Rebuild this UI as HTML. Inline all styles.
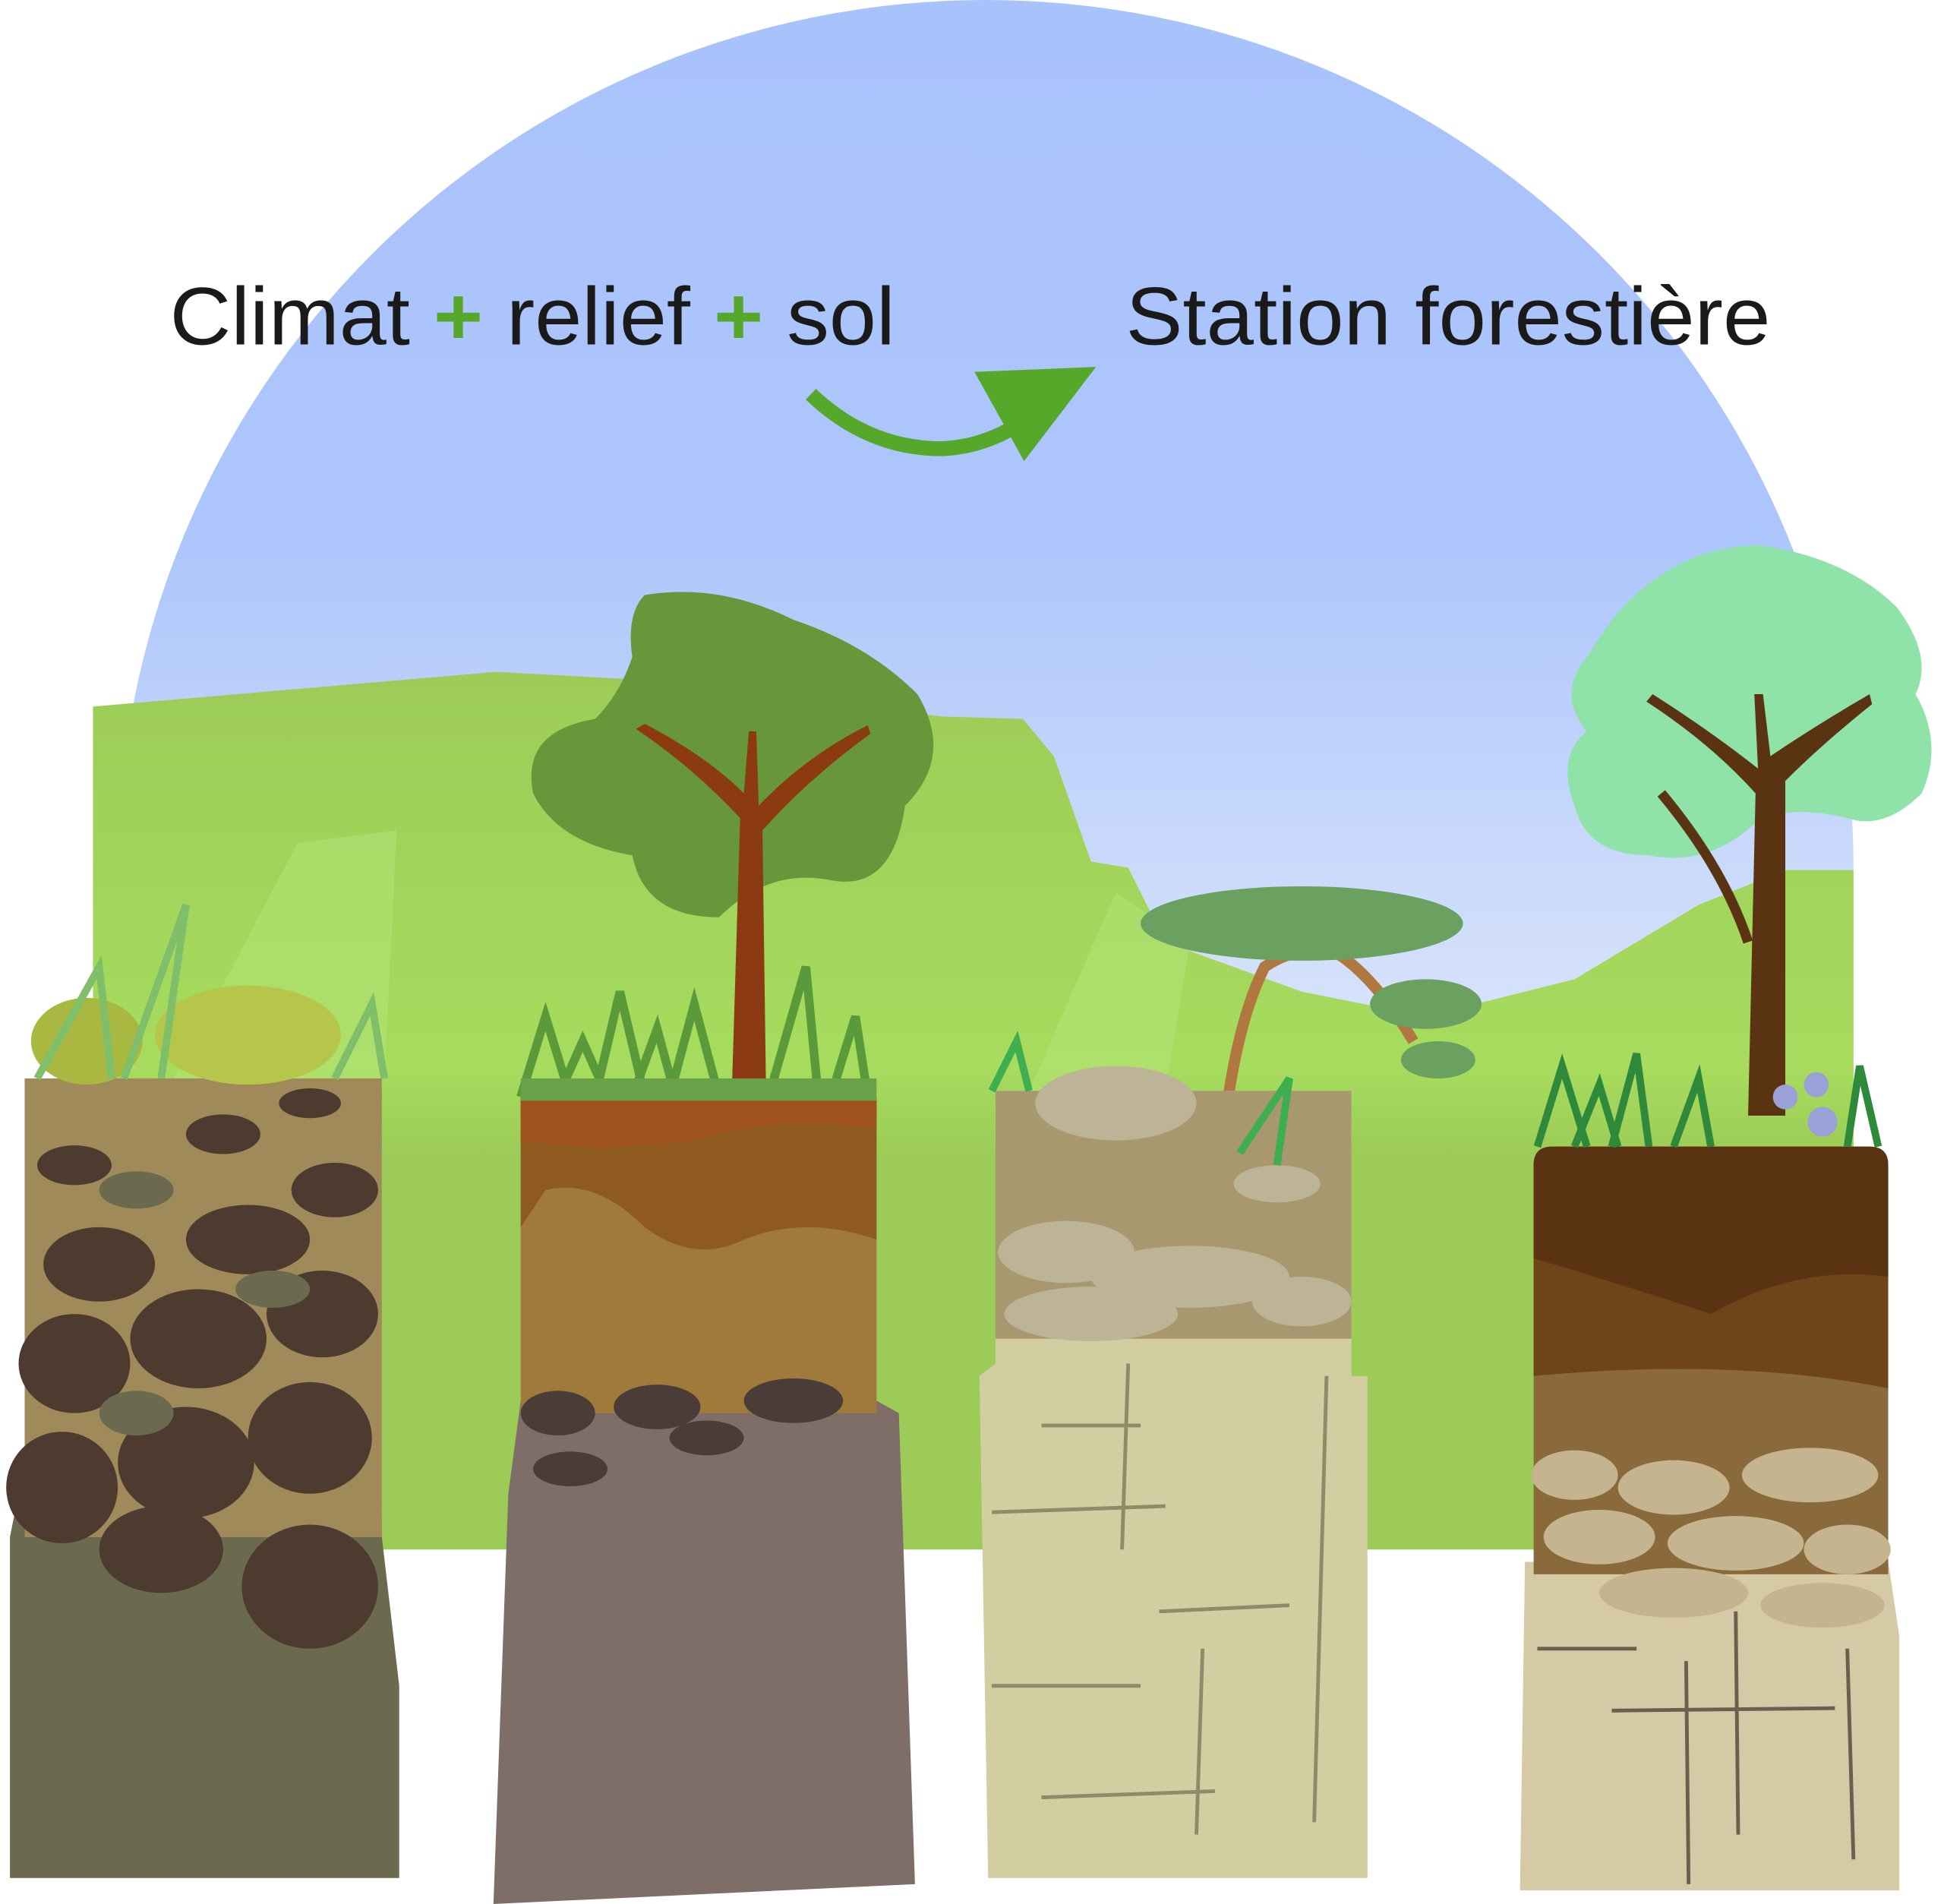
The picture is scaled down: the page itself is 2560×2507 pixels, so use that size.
<!DOCTYPE html>
<html><head><meta charset="utf-8"><style>
html,body{margin:0;padding:0;background:#fff;}
svg{display:block;}
</style></head><body>
<svg width="2560" height="2507" viewBox="0 0 1568 1536" preserveAspectRatio="none" xmlns="http://www.w3.org/2000/svg">
<defs>
<linearGradient id="sky" x1="0" y1="0" x2="0" y2="1">
<stop offset="0" stop-color="#a8c2fb"/><stop offset="0.35" stop-color="#adc6fb"/><stop offset="0.7" stop-color="#dde7fb"/><stop offset="1" stop-color="#eef3fb"/>
</linearGradient>
<linearGradient id="hill" x1="0" y1="0" x2="0" y2="1">
<stop offset="0" stop-color="#9ccc57"/><stop offset="0.45" stop-color="#a7dc5e"/><stop offset="0.55" stop-color="#9ccc57"/><stop offset="1" stop-color="#9ccc57"/>
</linearGradient>
</defs>
<rect width="1568" height="1536" fill="#fff"/>
<path d="M95,700 A700,700 0 0 1 1495,700 L1495,1250 L95,1250 Z" fill="url(#sky)"/>
<polygon fill="url(#hill)" points="75,570 400,542 510,548 760,578 825,580 850,610 880,695 910,700 940,760 1050,800 1150,820 1270,790 1370,730 1440,702 1495,702 1495,1250 75,1250"/>
<polygon fill="#b5e47a" opacity="0.5" points="240,680 320,670 310,870 140,870"/>
<polygon fill="#b5e47a" opacity="0.5" points="900,720 960,760 940,880 830,880"/>

<text x="137" y="278" font-family="Liberation Sans, sans-serif" font-size="66" fill="#1a1a1a" textLength="585" lengthAdjust="spacingAndGlyphs">Climat <tspan fill="#56a82a" font-weight="bold">+</tspan> relief <tspan fill="#56a82a" font-weight="bold">+</tspan> sol</text>
<text x="908" y="278" font-family="Liberation Sans, sans-serif" font-size="66" fill="#1a1a1a" textLength="520" lengthAdjust="spacingAndGlyphs">Station forestière</text>
<path d="M654,318 Q700,362 760,362 Q805,360 845,325" fill="none" stroke="#56a82a" stroke-width="12"/>
<polygon fill="#56a82a" points="884,296 786,300 826,372"/>

<!-- tree 2 -->
<path d="M520,480 Q580,470 640,500 Q700,520 740,560 Q770,610 730,650 Q720,720 670,710 Q620,700 580,740 Q520,740 510,690 Q450,680 430,640 Q420,590 480,580 Q500,560 510,530 Q505,495 520,480 Z" fill="#67973a"/>
<path d="M590,890 L597,660 Q560,620 513,588 L520,584 Q570,610 600,640 L604,590 L610,590 L612,650 Q650,610 700,585 L702,592 Q650,630 615,670 L618,890 Z" fill="#8b3a12"/>
<!-- tree 4 -->
<path d="M1300,500 Q1350,440 1420,440 Q1490,450 1530,490 Q1560,530 1545,560 Q1568,600 1550,640 Q1520,670 1490,660 Q1450,650 1420,660 Q1380,700 1330,690 Q1280,690 1270,650 Q1255,610 1280,590 Q1255,560 1280,530 Z" fill="#8fe3a8"/>
<path d="M1410,900 L1416,640 Q1380,600 1328,566 L1333,560 Q1380,590 1418,620 L1415,560 L1422,560 L1428,610 Q1465,585 1508,560 L1510,568 Q1470,600 1440,630 L1440,900 Z" fill="#5a3312"/>
<path d="M1340,640 Q1390,700 1410,760" stroke="#5a3312" stroke-width="8" fill="none"/>
<!-- tree 3 acacia -->
<path d="M990,890 Q1000,820 1020,780 Q1050,760 1080,770 Q1110,790 1140,840" stroke="#b07840" stroke-width="9" fill="none"/>
<ellipse cx="1050" cy="745" rx="130" ry="30" fill="#6aa060"/>
<ellipse cx="1150" cy="810" rx="45" ry="20" fill="#6aa060"/>
<ellipse cx="1160" cy="855" rx="30" ry="15" fill="#6aa060"/>

<!-- column 1 -->
<path d="M20,870 L305,870 L308,1240 L322,1360 L322,1515 L8,1515 L8,1240 L20,1180 Z" fill="#6b6a4e"/>
<rect x="20" y="870" width="288" height="370" fill="#a08a5a"/>
<g fill="#4d3b2f">
<ellipse cx="60" cy="940" rx="30" ry="16"/><ellipse cx="180" cy="915" rx="30" ry="16"/><ellipse cx="250" cy="890" rx="25" ry="12"/>
<ellipse cx="80" cy="1020" rx="45" ry="30"/><ellipse cx="200" cy="1000" rx="50" ry="28"/><ellipse cx="270" cy="960" rx="35" ry="22"/>
<ellipse cx="60" cy="1100" rx="45" ry="40"/><ellipse cx="160" cy="1080" rx="55" ry="40"/><ellipse cx="260" cy="1060" rx="45" ry="35"/>
<ellipse cx="50" cy="1200" rx="45" ry="45"/><ellipse cx="150" cy="1180" rx="55" ry="45"/><ellipse cx="250" cy="1160" rx="50" ry="45"/>
<ellipse cx="250" cy="1280" rx="55" ry="50"/><ellipse cx="130" cy="1250" rx="50" ry="35"/>
</g>
<g fill="#6b6a4e"><ellipse cx="110" cy="960" rx="30" ry="15"/><ellipse cx="220" cy="1040" rx="30" ry="15"/><ellipse cx="110" cy="1140" rx="30" ry="18"/></g>
<ellipse cx="70" cy="840" rx="45" ry="35" fill="#a8b840"/><ellipse cx="200" cy="835" rx="75" ry="40" fill="#b5c64a"/>
<path d="M30,870 L80,780 L90,870 M100,870 L150,730 L130,870 M270,870 L300,810 L310,870" stroke="#7fbf6a" stroke-width="6" fill="none"/>

<!-- column 2 -->
<path d="M420,1130 L707,1130 L725,1140 L738,1520 L398,1536 L410,1205 Z" fill="#7f6e68"/>
<rect x="420" y="885" width="287" height="255" fill="#a07a3a"/>
<path d="M420,885 L707,885 L707,1000 Q650,980 600,1000 Q560,1020 520,990 Q480,950 440,960 L420,990 Z" fill="#8e5a1f"/>
<path d="M420,885 L707,885 L707,910 Q620,900 560,920 Q480,930 420,920 Z" fill="#a0521c"/>
<g fill="#4a3d38"><ellipse cx="450" cy="1140" rx="30" ry="18"/><ellipse cx="530" cy="1135" rx="35" ry="18"/><ellipse cx="640" cy="1130" rx="40" ry="18"/><ellipse cx="460" cy="1185" rx="30" ry="14"/><ellipse cx="570" cy="1160" rx="30" ry="14"/></g>
<path d="M420,885 L440,820 L460,885 M480,885 L500,800 L520,885 M540,885 L560,810 L580,885 M620,885 L650,780 L660,885 M670,885 L690,820 L700,885 M450,885 L470,840 L490,885 M510,885 L530,830 L545,885" stroke="#5a9a3a" stroke-width="7" fill="none"/>
<rect x="420" y="870" width="287" height="18" fill="#6aa24a"/>

<!-- column 3 -->
<path d="M803,880 L1090,880 L1090,1110 L1103,1110 L1103,1515 L797,1515 L790,1110 L803,1100 Z" fill="#d3cea2"/>
<rect x="803" y="880" width="287" height="200" fill="#a89870"/>
<g fill="#bdb497"><ellipse cx="900" cy="890" rx="65" ry="30"/><ellipse cx="1030" cy="955" rx="35" ry="15"/><ellipse cx="860" cy="1010" rx="55" ry="25"/><ellipse cx="960" cy="1030" rx="80" ry="25"/><ellipse cx="1050" cy="1050" rx="40" ry="20"/><ellipse cx="880" cy="1060" rx="70" ry="22"/></g>
<g stroke="#8f8a6a" stroke-width="3" fill="none"><path d="M840,1150 L920,1150 M910,1100 L905,1250 M800,1220 L940,1215 M935,1300 L1040,1295 M800,1360 L920,1360 M840,1450 L980,1445 M970,1330 L965,1480 M1070,1110 L1060,1470"/></g>
<path d="M800,880 L820,840 L830,880 M1000,930 L1040,870 L1030,940" stroke="#3fae4f" stroke-width="6" fill="none"/>

<!-- column 4 -->
<path d="M1237,1260 L1523,1260 L1532,1320 L1532,1525 L1226,1525 L1230,1260 Z" fill="#d6c9a5"/>
<path d="M1237,940 Q1237,925 1252,925 L1508,925 Q1523,925 1523,940 L1523,1270 L1237,1270 Z" fill="#8a6a3a"/>
<path d="M1237,940 Q1237,925 1252,925 L1508,925 Q1523,925 1523,940 L1523,1120 Q1400,1095 1237,1110 Z" fill="#6e4519"/>
<path d="M1237,940 Q1237,925 1252,925 L1508,925 Q1523,925 1523,940 L1523,1030 Q1450,1020 1380,1060 Q1320,1040 1237,1015 Z" fill="#5a3312"/>
<g fill="#c4b48f"><ellipse cx="1270" cy="1190" rx="35" ry="20"/><ellipse cx="1350" cy="1200" rx="45" ry="22"/><ellipse cx="1460" cy="1190" rx="55" ry="22"/><ellipse cx="1290" cy="1240" rx="45" ry="22"/><ellipse cx="1400" cy="1245" rx="55" ry="22"/><ellipse cx="1490" cy="1250" rx="35" ry="20"/><ellipse cx="1350" cy="1285" rx="60" ry="20"/><ellipse cx="1470" cy="1295" rx="50" ry="18"/></g>
<g stroke="#6a6050" stroke-width="3" fill="none"><path d="M1240,1330 L1320,1330 M1300,1380 L1480,1378 M1400,1300 L1402,1480 M1490,1330 L1495,1500 M1360,1340 L1362,1520"/></g>
<path d="M1240,925 L1260,860 L1280,925 M1300,925 L1320,850 L1330,925 M1350,925 L1370,870 L1380,925 M1490,925 L1500,860 L1515,925 M1270,925 L1290,875 L1305,925" stroke="#2e8a3a" stroke-width="6" fill="none"/>
<g fill="#9aa0d8"><circle cx="1440" cy="885" r="10"/><circle cx="1465" cy="875" r="10"/><circle cx="1470" cy="905" r="12"/></g>
</svg>
</body></html>
